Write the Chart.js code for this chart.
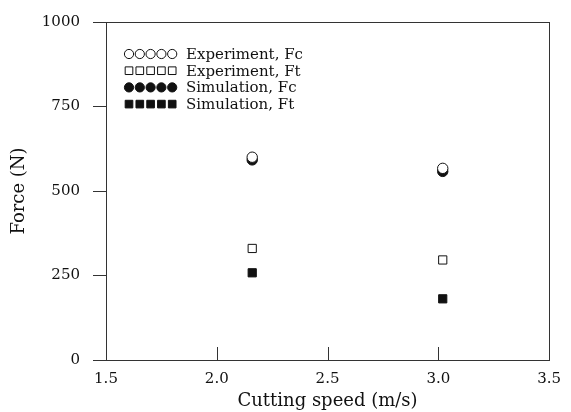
<!DOCTYPE html>
<html>
<head>
<meta charset="utf-8">
<script src="https://cdn.jsdelivr.net/npm/chart.js@4/dist/chart.umd.min.js"></script>
<style>
  html, body { margin: 0; padding: 0; background: #fff; }
  #wrap { width: 571px; height: 412px; }
</style>
</head>
<body>
<div id="wrap"><canvas id="c" width="571" height="412"></canvas></div>
<script>
// Cutting speed (m/s) and measured / simulated forces (N)
const speeds = [2.16, 3.02];
const expFc = [600, 567];
const expFt = [330, 296];
const simFc = [592, 558];
const simFt = [258, 181];
const seriesNames = ['Experiment, Fc', 'Experiment, Ft', 'Simulation, Fc', 'Simulation, Ft'];
const xTicks = [1.5, 2.0, 2.5, 3.0, 3.5];
const yTicks = [0, 250, 500, 750, 1000];

const FONT = "'DejaVu Serif', serif";
const INK = '#111';
const AXIS = '#333';

function pts(ys) { return speeds.map((x, i) => ({ x: x, y: ys[i] })); }

const open = { borderColor: INK, backgroundColor: '#fff', borderWidth: 1 };
const solid = { borderColor: INK, backgroundColor: INK, borderWidth: 1 };

const datasets = [
  Object.assign({ label: seriesNames[0], data: pts(expFc), pointStyle: 'circle', pointRadius: 5.2 }, open),
  Object.assign({ label: seriesNames[1], data: pts(expFt), pointStyle: 'rect', pointRadius: 5.8 }, open),
  Object.assign({ label: seriesNames[2], data: pts(simFc), pointStyle: 'circle', pointRadius: 5.2 }, solid),
  Object.assign({ label: seriesNames[3], data: pts(simFt), pointStyle: 'rect', pointRadius: 5.8 }, solid)
];

// Frame around the plot plus inward tick marks on the speed axis
const framePlugin = {
  id: 'frame',
  afterDraw(chart) {
    const { ctx, chartArea: a, scales } = chart;
    ctx.save();
    ctx.strokeStyle = AXIS;
    ctx.lineWidth = 1;
    ctx.strokeRect(Math.round(a.left) + 0.5, Math.round(a.top) + 0.5,
                   Math.round(a.right - a.left), Math.round(a.bottom - a.top));
    ctx.beginPath();
    xTicks.forEach(v => {
      const px = Math.round(scales.x.getPixelForValue(v)) + 0.5;
      ctx.moveTo(px, a.bottom);
      ctx.lineTo(px, a.bottom - 13);
    });
    ctx.stroke();
    ctx.restore();
  }
};

// Key in the upper-left corner: five markers per series, then its name
const keyPlugin = {
  id: 'key',
  afterDatasetsDraw(chart) {
    const { ctx, chartArea: a } = chart;
    ctx.save();
    ctx.font = '15px ' + FONT;
    ctx.textBaseline = 'middle';
    ctx.textAlign = 'left';
    chart.data.datasets.forEach((ds, i) => {
      const y = a.top + 32 + i * 16.7;
      ctx.strokeStyle = ds.borderColor;
      ctx.fillStyle = ds.backgroundColor;
      ctx.lineWidth = 1;
      for (let k = 0; k < 5; k++) {
        const x = a.left + 23 + k * 10.8;
        Chart.helpers.drawPoint(ctx, {
          pointStyle: ds.pointStyle,
          radius: ds.pointStyle === 'rect' ? 5.4 : 4.6,
          rotation: 0,
          borderWidth: 1
        }, x, y);
      }
      ctx.fillStyle = INK;
      ctx.fillText(ds.label, a.left + 80, y + 1);
    });
    ctx.restore();
  }
};

new Chart(document.getElementById('c'), {
  type: 'scatter',
  data: { datasets: datasets },
  plugins: [framePlugin, keyPlugin],
  options: {
    responsive: false,
    animation: false,
    events: [],
    layout: { padding: { top: 20, right: 12, left: 0, bottom: 0 } },
    plugins: { legend: { display: false }, tooltip: { enabled: false } },
    scales: {
      x: {
        type: 'linear',
        min: 1.5, max: 3.5,
        afterBuildTicks(s) { s.ticks = xTicks.map(v => ({ value: v })); },
        afterFit(s) { s.height = 52; },
        border: { display: false },
        grid: { display: true, drawOnChartArea: false, drawTicks: false, color: AXIS },
        ticks: {
          color: INK, padding: 10,
          font: { family: FONT, size: 15 },
          callback: v => v.toFixed(1)
        },
        title: {
          display: true, text: 'Cutting speed (m/s)', color: INK,
          font: { family: FONT, size: 18 }, padding: { top: 0, bottom: 0 }
        }
      },
      y: {
        type: 'linear',
        min: 0, max: 1000,
        afterBuildTicks(s) { s.ticks = yTicks.map(v => ({ value: v })); },
        afterFit(s) { s.width = 106; },
        border: { display: false },
        grid: { display: true, drawOnChartArea: false, drawTicks: true, tickLength: 13, color: AXIS },
        ticks: {
          color: INK, padding: 13,
          font: { family: FONT, size: 15 },
          callback: v => String(v)
        },
        title: {
          display: true, text: 'Force (N)', color: INK,
          font: { family: FONT, size: 18 }, padding: { top: 9, bottom: 0 }
        }
      }
    }
  }
});
</script>
</body>
</html>
